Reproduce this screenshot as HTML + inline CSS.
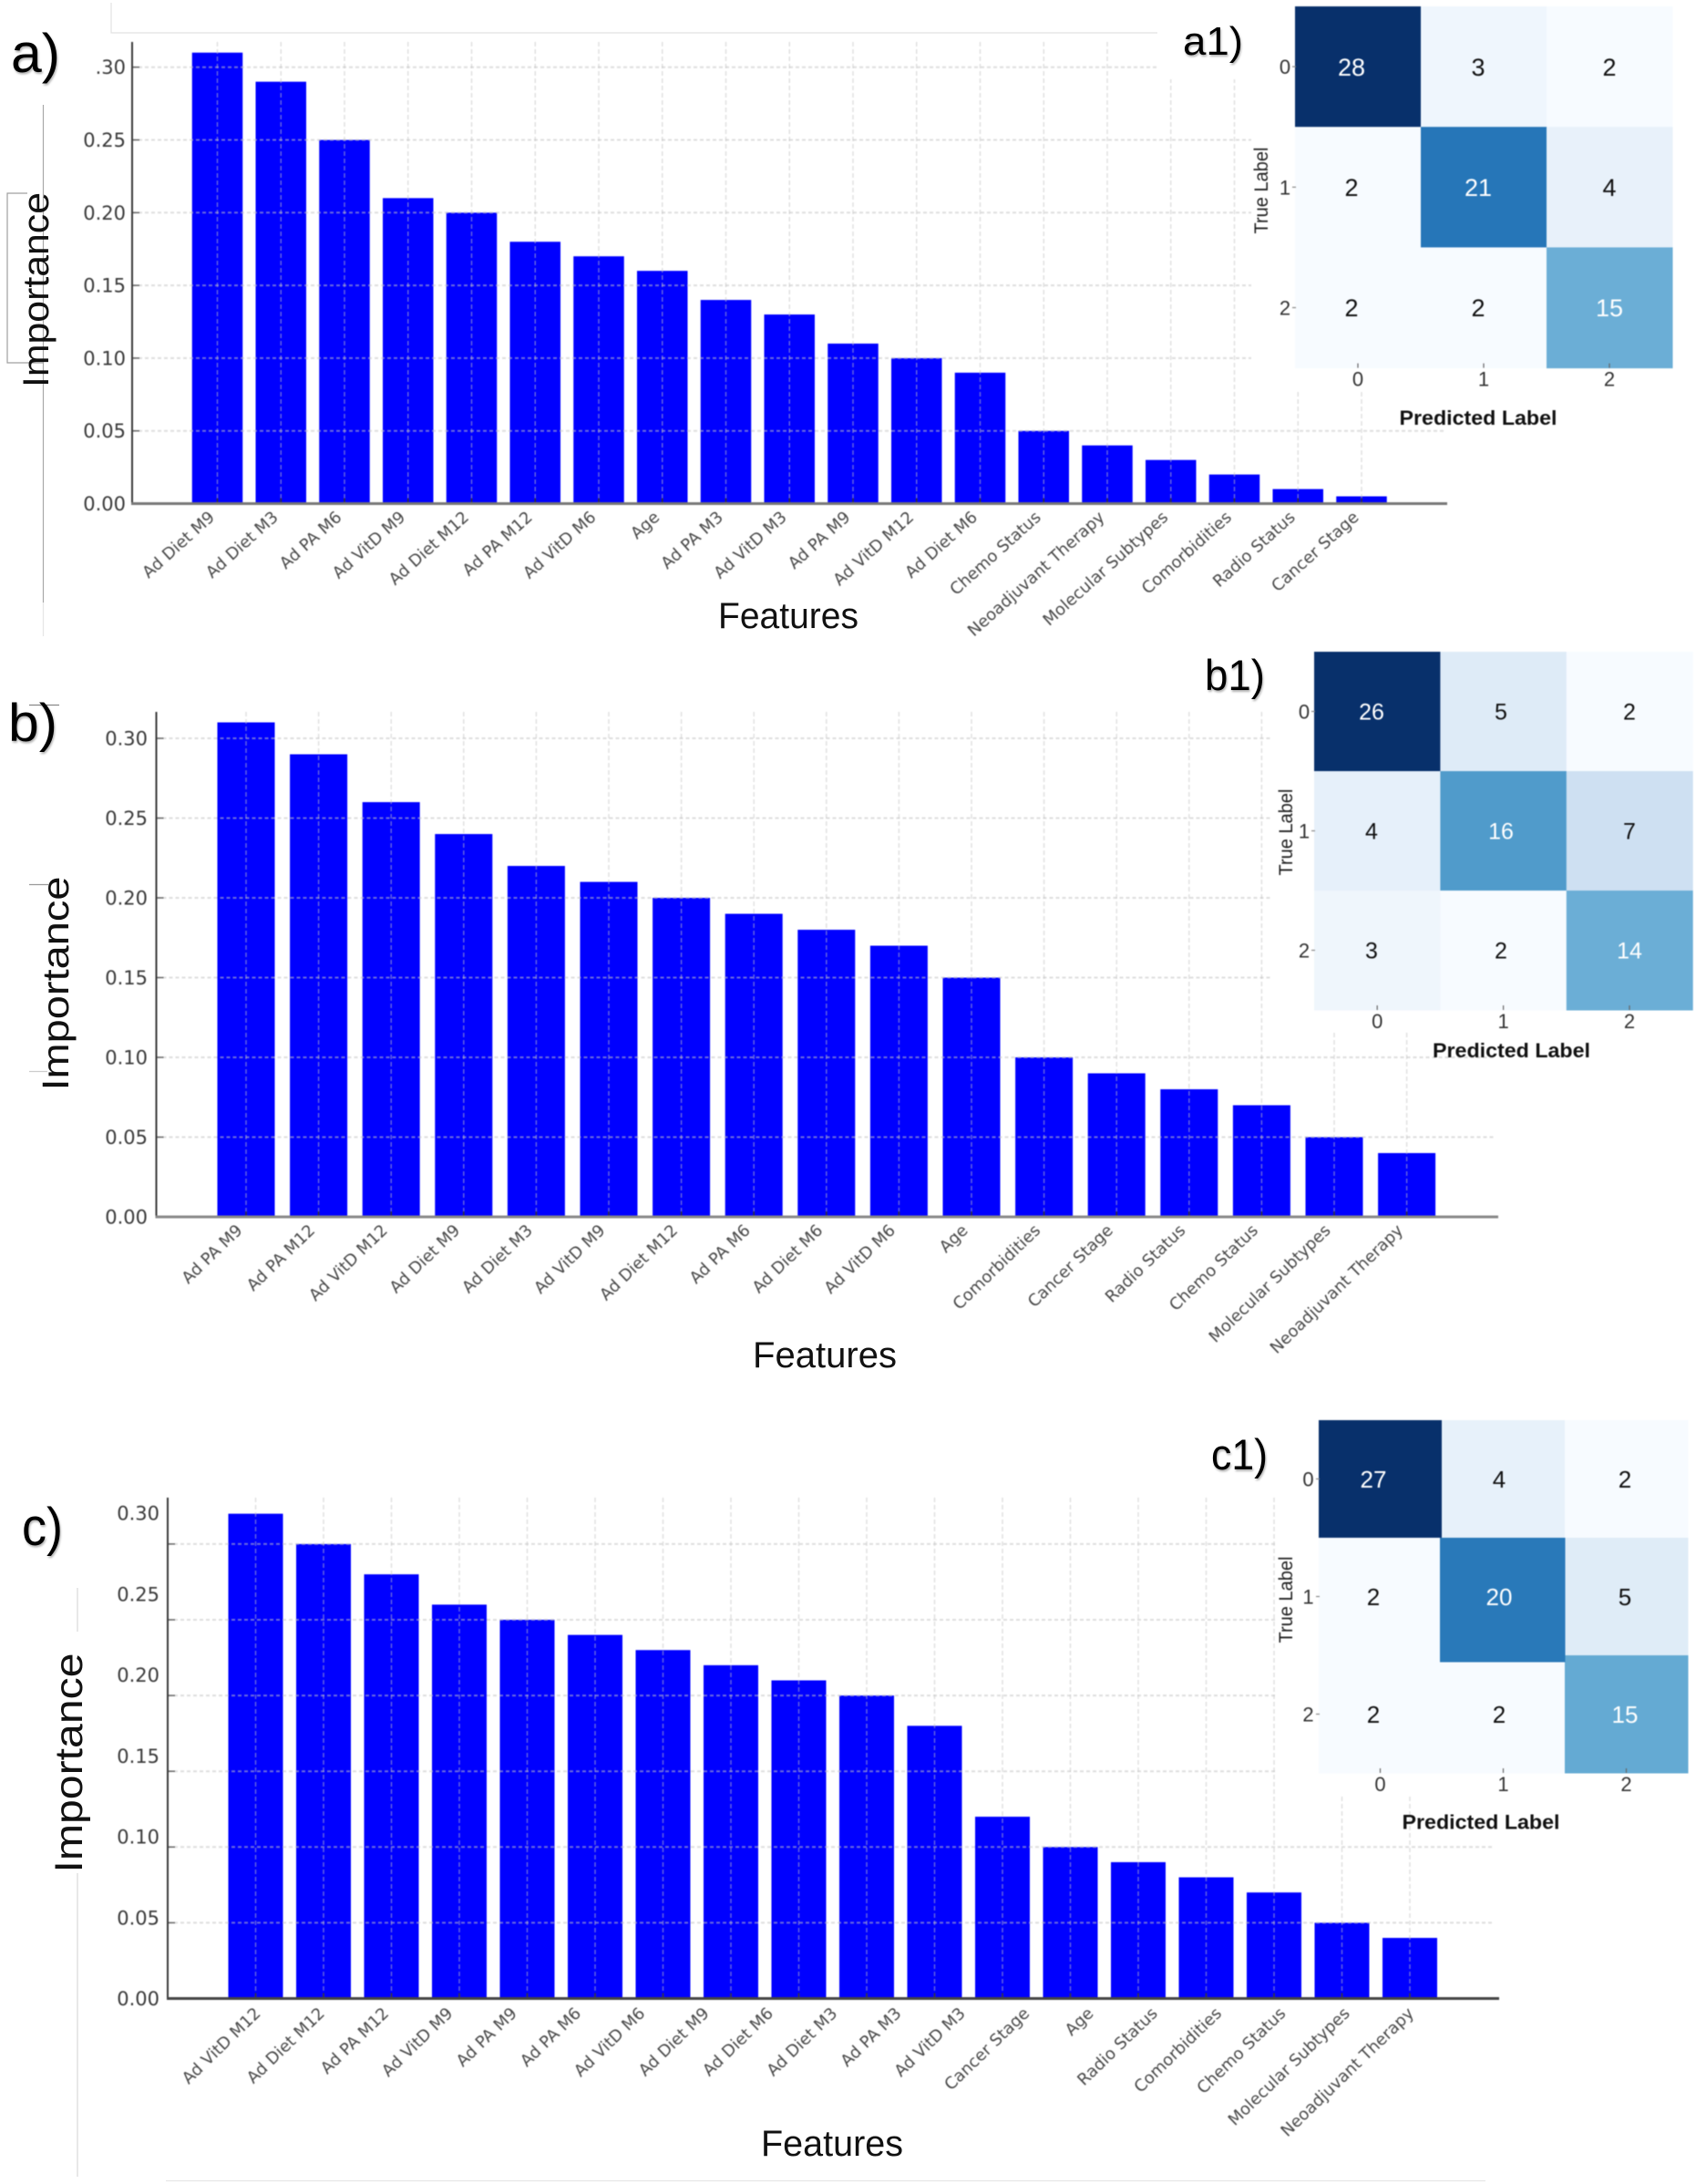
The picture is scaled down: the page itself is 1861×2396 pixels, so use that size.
<!DOCTYPE html>
<html lang="en">
<head>
<meta charset="utf-8">
<title>Feature importance and confusion matrices</title>
<style>
html,body{margin:0;padding:0;background:#fff;}
svg{display:block;}
.sans{font-family:"Liberation Sans",sans-serif;}
.dj{font-family:"DejaVu Sans",sans-serif;}
.letter{font-family:"Liberation Sans",sans-serif;fill:#000;filter:drop-shadow(1px 2px 1px rgba(0,0,0,.3));}
#layer-charts{filter:blur(.4px);}
</style>
</head>
<body>
<svg id="figure" xmlns="http://www.w3.org/2000/svg" width="1861" height="2396" viewBox="0 0 1861 2396">
  <rect x="0" y="0" width="1861" height="2396" fill="#fff"/>
  <g id="layer-charts"></g>
  <g fill="none" stroke-width="1.2">
    <path d="M122 3V36H1270" stroke="#e2e2e2"/>
    <path d="M47.5 115V661" stroke="#a8a8a8"/>
    <path d="M47.5 661V698" stroke="#e6e6e6"/>
    <path d="M30 212H8V398H47" stroke="#a0a0a0"/>
    <path d="M32 773.5H65" stroke="#888"/>
    <path d="M32 970.5H53" stroke="#999"/>
    <path d="M32 1175.5H52" stroke="#ccc"/>
    <path d="M85 1742V1790" stroke="#d8d8d8"/>
    <path d="M85 2055V2388" stroke="#d8d8d8"/>
    <path d="M182 2392.5H1630" stroke="#e6e6e6"/>
  </g>

  <text class="letter" x="12" y="79" font-size="60" textLength="54" lengthAdjust="spacingAndGlyphs">a)</text>
  <text class="letter" x="9" y="813" font-size="58" textLength="54" lengthAdjust="spacingAndGlyphs">b)</text>
  <text class="letter" x="24" y="1695" font-size="58" textLength="45" lengthAdjust="spacingAndGlyphs">c)</text>
  <text class="letter" x="1298" y="60" font-size="44" textLength="66" lengthAdjust="spacingAndGlyphs">a1)</text>
  <text class="letter" x="1322" y="757" font-size="47" textLength="66" lengthAdjust="spacingAndGlyphs">b1)</text>
  <text class="letter" x="1329" y="1612" font-size="47" textLength="62" lengthAdjust="spacingAndGlyphs">c1)</text>

  <text class="sans" transform="translate(53,318) rotate(-90)" text-anchor="middle" font-size="40" fill="#111" textLength="214" lengthAdjust="spacingAndGlyphs">Importance</text>
  <text class="sans" transform="translate(75,1079) rotate(-90)" text-anchor="middle" font-size="41" fill="#111" textLength="235" lengthAdjust="spacingAndGlyphs">Importance</text>
  <text class="sans" transform="translate(90,1934) rotate(-90)" text-anchor="middle" font-size="43" fill="#111" textLength="241" lengthAdjust="spacingAndGlyphs">Importance</text>

  <text class="sans" x="865" y="689" text-anchor="middle" font-size="40" fill="#111" textLength="154" lengthAdjust="spacingAndGlyphs">Features</text>
  <text class="sans" x="905" y="1500" text-anchor="middle" font-size="40" fill="#111" textLength="158" lengthAdjust="spacingAndGlyphs">Features</text>
  <text class="sans" x="913" y="2365" text-anchor="middle" font-size="40" fill="#111" textLength="156" lengthAdjust="spacingAndGlyphs">Features</text>
</svg>
<script>
// ----- chart data -----
var aCategories = ["Ad Diet M9","Ad Diet M3","Ad PA M6","Ad VitD M9","Ad Diet M12","Ad PA M12","Ad VitD M6","Age","Ad PA M3","Ad VitD M3","Ad PA M9","Ad VitD M12","Ad Diet M6","Chemo Status","Neoadjuvant Therapy","Molecular Subtypes","Comorbidities","Radio Status","Cancer Stage"];
var aValues = [0.31,0.29,0.25,0.21,0.20,0.18,0.17,0.16,0.14,0.13,0.11,0.10,0.09,0.05,0.04,0.03,0.02,0.01,0.005];
var bCategories = ["Ad PA M9","Ad PA M12","Ad VitD M12","Ad Diet M9","Ad Diet M3","Ad VitD M9","Ad Diet M12","Ad PA M6","Ad Diet M6","Ad VitD M6","Age","Comorbidities","Cancer Stage","Radio Status","Chemo Status","Molecular Subtypes","Neoadjuvant Therapy"];
var bValues = [0.31,0.29,0.26,0.24,0.22,0.21,0.20,0.19,0.18,0.17,0.15,0.10,0.09,0.08,0.07,0.05,0.04];
var cCategories = ["Ad VitD M12","Ad Diet M12","Ad PA M12","Ad VitD M9","Ad PA M9","Ad PA M6","Ad VitD M6","Ad Diet M9","Ad Diet M6","Ad Diet M3","Ad PA M3","Ad VitD M3","Cancer Stage","Age","Radio Status","Comorbidities","Chemo Status","Molecular Subtypes","Neoadjuvant Therapy"];
var cValues = [0.32,0.30,0.28,0.26,0.25,0.24,0.23,0.22,0.21,0.20,0.18,0.12,0.10,0.09,0.08,0.07,0.05,0.04];
var gridValues = [0.05,0.10,0.15,0.20,0.25,0.30];
var tickValues = [0,0.05,0.10,0.15,0.20,0.25,0.30];
var tickLabels = ["0.00","0.05","0.10","0.15","0.20","0.25","0.30"];
var aTickLabels = ["0.00","0.05","0.10","0.15","0.20","0.25",".30"];
var aMatrix = [[28,3,2],[2,21,4],[2,2,15]];
var bMatrix = [[26,5,2],[4,16,7],[3,2,14]];
var cMatrix = [[27,4,2],[2,20,5],[2,2,15]];
var matrixTicks = ["0","1","2"];

var SVGNS = "http://www.w3.org/2000/svg";
var root = document.getElementById("layer-charts");

function make(tag, attrs, parent) {
  var el = document.createElementNS(SVGNS, tag);
  for (var k in attrs) { el.setAttribute(k, attrs[k]); }
  parent.appendChild(el);
  return el;
}

function drawBarChart(cfg, categories, values, labels) {
  var g = make("g", {}, root);
  
  
  function xPos(i) { return cfg.x0 + cfg.step * i; }
  function yPos(v) { return cfg.y0 - v * cfg.pxPerUnit; }
  function labelY(v) { return cfg.y0 - v * cfg.labelPx; }

  values.forEach(function (v, i) {
    var bar = make("rect", { x: xPos(i) - cfg.barW / 2, y: yPos(v), width: cfg.barW, height: cfg.y0 - yPos(v), fill: "#0000ff" }, g);
    
    
  });

  gridValues.forEach(function (v) {
    var line = make("line", { x1: cfg.axisX, x2: cfg.gridRight, y1: yPos(v), y2: yPos(v), stroke: "rgba(195,195,195,.55)", "stroke-width": 2, "stroke-dasharray": "4 3" }, g);
    
    
    var tick = make("line", { x1: cfg.axisX, x2: cfg.axisX + 8, y1: yPos(v), y2: yPos(v), stroke: "#666", "stroke-width": 1.5 }, g);
    
    
  });

  values.forEach(function (v, i) {
    var line = make("line", { x1: xPos(i), x2: xPos(i), y1: cfg.axisTop, y2: cfg.y0, stroke: "rgba(195,195,195,.5)", "stroke-width": 1.5, "stroke-dasharray": "5 3" }, g);
    
    
    var tick = make("line", { x1: xPos(i), x2: xPos(i), y1: cfg.y0 - 6, y2: cfg.y0, stroke: "#333", "stroke-width": 1.5 }, g);
    
    
  });

  cfg.masks.forEach(function (m) {
    var mask = make("rect", { x: m[0], y: m[1], width: m[2], height: m[3], fill: "#fff" }, g);
    
    
  });

  var yAxis = make("line", { x1: cfg.axisX, x2: cfg.axisX, y1: cfg.axisTop, y2: cfg.y0, stroke: "#3a3a3a", "stroke-width": 2 }, g);
  
  
  var xAxis = make("line", { x1: cfg.axisX - 1, x2: cfg.axisRight, y1: cfg.y0, y2: cfg.y0, stroke: cfg.axisColor, "stroke-width": 3 }, g);
  
  

  tickValues.forEach(function (v, i) {
    var t = make("text", { x: cfg.tickRight, y: labelY(v) + 7.5, "text-anchor": "end", "font-size": 21, fill: "#3a3a3a", "class": "dj" }, g);
    
    
    t.textContent = labels[i];
  });

  categories.forEach(function (name, i) {
    var lx = cfg.labelX0 + cfg.labelStep * i;
    var t = make("text", { x: lx, y: cfg.labelY, "text-anchor": "end", "font-size": 18, fill: "#4a4a4a", "class": "dj", transform: "rotate(" + cfg.labelAngle + " " + lx + " " + cfg.labelY + ")" }, g);
    
    
    t.textContent = name;
  });
}

var bluesStops = [[247,251,255],[222,235,247],[198,219,239],[158,202,225],[107,174,214],[66,146,198],[33,113,181],[8,81,156],[8,48,107]];
function blues(t) {
  var p = Math.max(0, Math.min(1, t)) * (bluesStops.length - 1);
  var k = Math.min(Math.floor(p), bluesStops.length - 2);
  var f = p - k;
  var c = [0, 1, 2].map(function (j) { return Math.round(bluesStops[k][j] + (bluesStops[k + 1][j] - bluesStops[k][j]) * f); });
  return "rgb(" + c.join(",") + ")";
}

function drawMatrix(cfg, matrix) {
  var g = make("g", {}, root);
  
  
  var flat = matrix.reduce(function (a, r) { return a.concat(r); }, []);
  var min = Math.min.apply(null, flat), max = Math.max.apply(null, flat);
  function cx(c) { return cfg.x + cfg.w * (c + 0.5); }
  function cy(r) { return cfg.y + cfg.h * (r + 0.5); }
  var raised = [];
  matrix.forEach(function (row, r) {
    row.forEach(function (v, c) {
      var nudge = (cfg.centerNudge && r === 1 && c === 1) ? cfg.centerNudge : [0, 0];
      var cell = make("rect", { x: cfg.x + cfg.w * c - nudge[0], y: cfg.y + cfg.h * r, width: cfg.w + nudge[0] + 0.5, height: cfg.h + nudge[1] + 0.5, fill: blues((v - min) / (max - min)) }, g);
      
      
      if (nudge[1]) { raised.push(cell); }
    });
  });
  raised.forEach(function (el) { g.appendChild(el); });
  matrix.forEach(function (row, r) {
    row.forEach(function (v, c) {
      var t = make("text", { x: cfg.textXs[c], y: cy(r) + cfg.textSize * 0.36, "text-anchor": "middle", "font-size": cfg.textSize, fill: (v - min) / (max - min) > 0.45 ? "#fff" : "#111", "class": "sans" }, g);
      
      
      t.textContent = v;
    });
  });
  matrixTicks.forEach(function (label, i) {
    var xm = make("line", { x1: cx(i), x2: cx(i), y1: cfg.y + cfg.h * 3 - 5, y2: cfg.y + cfg.h * 3, stroke: "#666", "stroke-width": 1.2 }, g);
    
    
    var ym = make("line", { x1: cfg.x - 3, x2: cfg.x + 1, y1: cy(i), y2: cy(i), stroke: "#888", "stroke-width": 1.2 }, g);
    
    
    var xt = make("text", { x: cx(i), y: cfg.xTickY + 8, "text-anchor": "middle", "font-size": 22, fill: "#333", "class": "sans" }, g);
    
    
    xt.textContent = label;
    var yt = make("text", { x: cfg.yTickX, y: cy(i) + 8, "text-anchor": "middle", "font-size": 22, fill: "#333", "class": "sans" }, g);
    
    
    yt.textContent = label;
  });
  var yTitle = make("text", { transform: "translate(" + cfg.trueX + "," + cfg.trueY + ") rotate(-90)", "text-anchor": "middle", "font-size": 21, fill: "#222", "class": "sans", textLength: 95, lengthAdjust: "spacingAndGlyphs" }, g);
  
  
  yTitle.textContent = "True Label";
  var xTitle = make("text", { x: cfg.predX, y: cfg.predY, "text-anchor": "middle", "font-size": 22, "font-weight": "bold", fill: "#111", "class": "sans", textLength: 173, lengthAdjust: "spacingAndGlyphs" }, g);
  
  
  xTitle.textContent = "Predicted Label";
}

drawBarChart({
  x0: 238.5, step: 69.75, barW: 55.5, y0: 552.5, pxPerUnit: 1596, labelPx: 1596,
  axisX: 145, axisTop: 46, axisRight: 1588, gridRight: 1585, tickRight: 138, axisColor: "#777",
  labelX0: 236.5, labelStep: 69.75, labelY: 569, labelAngle: -42,
  masks: [[1270, 0, 591, 87], [1373, 0, 488, 427]]
}, aCategories, aValues, aTickLabels);

drawBarChart({
  x0: 270, step: 79.6, barW: 63, y0: 1335, pxPerUnit: 1750, labelPx: 1750,
  axisX: 171.5, axisTop: 781, axisRight: 1644, gridRight: 1640, tickRight: 162, axisColor: "#888",
  labelX0: 267, labelStep: 79.6, labelY: 1351, labelAngle: -44,
  masks: [[1395, 700, 466, 430]]
}, bCategories, bValues, tickLabels);

drawBarChart({
  x0: 280.5, step: 74.5, barW: 60, y0: 2192.5, pxPerUnit: 1662, labelPx: 1775,
  axisX: 184, axisTop: 1643, axisRight: 1645, gridRight: 1640, tickRight: 175, axisColor: "#444",
  labelX0: 287, labelStep: 70.3, labelY: 2210, labelAngle: -44,
  masks: [[1400, 1540, 461, 428]]
}, cCategories, cValues, tickLabels);

drawMatrix({ x: 1421, y: 7, w: 138, h: 132.2, textXs: [1483, 1622, 1766], textSize: 27, xTickY: 415.5, yTickX: 1410, trueX: 1391, trueY: 209, predX: 1622, predY: 466 }, aMatrix);
drawMatrix({ x: 1442, y: 715, w: 138.4, h: 131, textXs: [1505, 1647, 1788], textSize: 25, xTickY: 1120, yTickX: 1431, trueX: 1418, trueY: 913, predX: 1658.5, predY: 1160 }, bMatrix);
drawMatrix({ x: 1447, y: 1558, w: 135, h: 129, textXs: [1507, 1645, 1783], textSize: 26, xTickY: 1957, yTickX: 1435.5, trueX: 1418, trueY: 1755, predX: 1625, predY: 2006.5, centerNudge: [2, 7] }, cMatrix);
</script>
</body>
</html>
